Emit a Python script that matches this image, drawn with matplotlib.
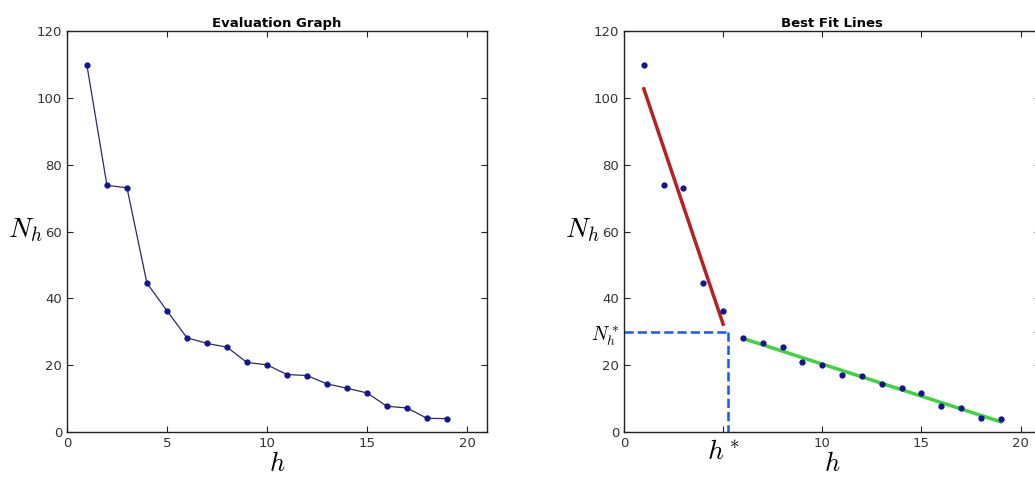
import numpy as np
import matplotlib
matplotlib.use('Agg')
import matplotlib.pyplot as plt

plt.rcParams['mathtext.fontset'] = 'cm'
plt.rcParams['font.family'] = ['DejaVu Sans']

# data
h = [1, 2, 3, 4, 5, 6, 7, 8, 9, 10, 11, 12, 13, 14, 15, 16, 17, 18, 19]
Nh = [109.7, 73.8, 73.1, 44.5, 36.3, 28.2, 26.5, 25.4, 20.8, 20.1,
      17.2, 16.9, 14.4, 13.1, 11.7, 7.7, 7.2, 4.1, 4.0]
split = 5            # first fit uses h <= split, second h > split
h_star = 5.25
N_star = 29.8

xticks_left = [0, 5, 10, 15, 20]
yticks = [0, 20, 40, 60, 80, 100, 120]

h = np.array(h)
Nh = np.array(Nh)

fig = plt.figure(figsize=(10.35, 4.8), dpi=100)
ax1 = fig.add_axes([0.0647, 0.1, 0.4058, 0.8354])
ax2 = fig.add_axes([0.6029, 0.1, 0.4024, 0.8354])

dot_col = '#14148c'
tick_col = '#333333'

def style(ax):
    ax.set_xlim(0, 21)
    ax.set_ylim(0, 120)
    ax.tick_params(direction='in', top=True, right=True, length=4,
                   labelsize=9.5, labelcolor=tick_col, color='#222222')
    for s in ax.spines.values():
        s.set_linewidth(1.0)
        s.set_color('#222222')
    ax.set_xlabel('$h$', fontsize=19)
    ax.xaxis.set_label_coords(0.5, -0.048)
    ax.set_ylabel('$N_h$', fontsize=20, rotation=0)
    ax.yaxis.set_label_coords(-0.1, 0.47)

# left: evaluation graph
ax1.plot(h, Nh, '-', color='#2a2a6a', lw=0.9)
ax1.plot(h, Nh, 'o', color=dot_col, ms=3.5)
style(ax1)
ax1.set_xticks(xticks_left)
ax1.set_yticks(yticks)
ax1.set_title('Evaluation Graph', fontsize=9.5, fontweight='bold', pad=3)

# right: best fit lines
m1 = h <= split
m2 = h > split
p1 = np.polyfit(h[m1], Nh[m1], 1)
p2 = np.polyfit(h[m2], Nh[m2], 1)
x1 = np.array([h[m1].min(), h[m1].max()])
x2 = np.array([h[m2].min(), h[m2].max()])
ax2.plot(x1, np.polyval(p1, x1), color='#b52222', lw=2.5)
ax2.plot(x2, np.polyval(p2, x2), color='#3fd43f', lw=2.5)
ax2.plot(h, Nh, 'o', color=dot_col, ms=3.5)
ax2.plot([0, h_star], [N_star, N_star], '--', color='#1a55ff', lw=1.8)
ax2.plot([h_star, h_star], [N_star, 0], '--', color='#1a55ff', lw=1.8)
style(ax2)
ax2.set_xticks(xticks_left)
ax2.set_xticklabels(['0', '$h^*$', '10', '15', '20'])
lbls = ax2.get_xticklabels()
lbls[1].set_fontsize(20)
lbls[1].set_color('black')
ax2.set_yticks([0, 20, N_star, 40, 60, 80, 100, 120])
ax2.set_yticklabels(['0', '20', '$N_h^*$', '40', '60', '80', '100', '120'])
yl = ax2.get_yticklabels()
yl[2].set_fontsize(14)
yl[2].set_color('black')
ax2.set_title('Best Fit Lines', fontsize=9.5, fontweight='bold', pad=3)

fig.savefig('out.png', dpi=100)
